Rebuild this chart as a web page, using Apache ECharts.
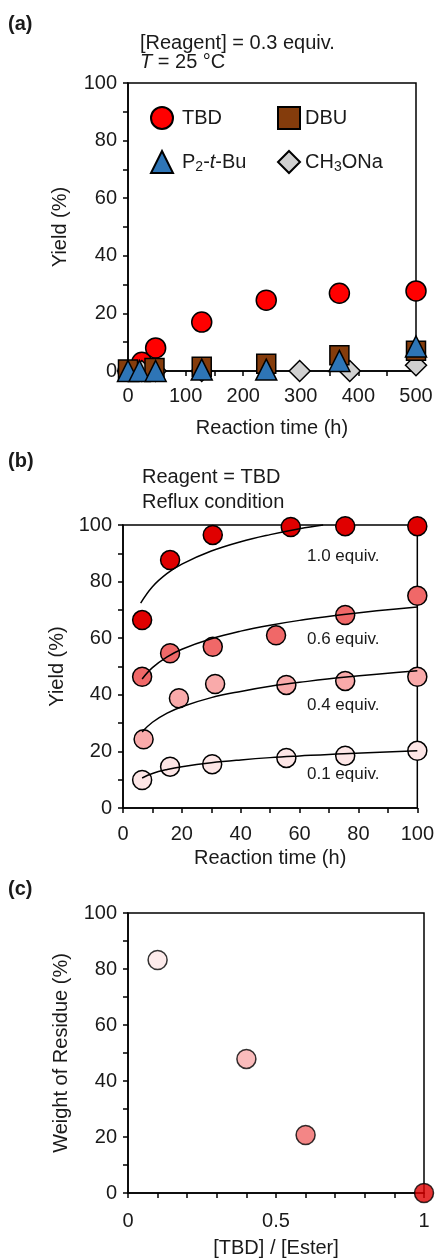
<!DOCTYPE html>
<html>
<head>
<meta charset="utf-8">
<script src="https://cdn.jsdelivr.net/npm/echarts@6/dist/echarts.min.js"></script>
<style>
  html, body { margin: 0; padding: 0; background: #fff; }
  #chart { width: 437px; height: 1260px; }
</style>
</head>
<body>
<div id="chart"></div>
<script>
// panel (a): yield vs time at 25 C, 0.3 equiv reagent
const tbdT = [0, 24, 48, 128, 240, 367, 500];
const tbdY = [0, 3, 8, 17, 24.6, 27, 27.8];
const dbuT = [0, 46, 128, 240, 367, 500];
const dbuY = [0.5, 1, 1.5, 2.5, 5.5, 7];
const p2T = [0, 20, 48, 128, 240, 367, 500];
const p2Y = [0, 0, 0, 0.5, 0.5, 3.5, 8.5];
const meoT = [0, 24, 48, 128, 298, 385, 500];
const meoY = [0, 0, 0, 0, 0, 0, 2];

// panel (b): TBD under reflux, different loadings
const eq10T = [6.5, 16, 30.5, 57, 75.5, 100];
const eq10Y = [66.4, 87.6, 96.5, 99.3, 99.6, 99.6];
const eq06T = [6.5, 16, 30.5, 52, 75.5, 100];
const eq06Y = [46.4, 54.7, 57, 61, 68.2, 75];
const eq04T = [7, 19, 31.3, 55.5, 75.5, 100];
const eq04Y = [24.3, 38.8, 43.8, 43.5, 44.9, 46.4];
const eq01T = [6.5, 16, 30.3, 55.5, 75.5, 100];
const eq01Y = [9.9, 14.6, 15.5, 17.7, 18.5, 20.2];

// trend curves
const fit10T = [6, 10, 15, 20, 30, 40, 50, 60, 68];
const fit10Y = [72.4, 78.2, 82.9, 86.2, 90.8, 94.1, 96.6, 98.7, 100];
const fitT = [6.5, 10, 15, 20, 30, 40, 50, 60, 75, 100];
const fit06Y = [45.6, 49.6, 53.4, 56.1, 59.8, 62.5, 64.6, 66.3, 68.4, 71.0];
const fit04Y = [26.9, 30.3, 33.5, 35.8, 39.0, 41.2, 43.0, 44.4, 46.2, 48.5];
const fit01Y = [10.6, 12.2, 13.6, 14.6, 16.0, 17.0, 17.8, 18.4, 19.2, 20.2];

// panel (c): residue vs TBD ratio
const ratioX = [0.1, 0.4, 0.6, 1.0];
const residueY = [83.2, 47.9, 20.7, 0];

const FONT = 'Liberation Sans, Arial, sans-serif';
const TXT = '#1a1a1a';
const c10 = '#e00000', c06 = '#f06868', c04 = '#f9aaaa', c01 = '#fde6e6';
const residueColors = [c01, c04, c06, c10];

const zip = (xs, ys) => xs.map((x, i) => [x, ys[i]]);

function xAxis(idx, max, interval, minorSplit, margin, name, gap) {
  return {
    gridIndex: idx, type: 'value', min: 0, max: max, interval: interval,
    name: name, nameLocation: 'middle', nameGap: gap,
    nameTextStyle: { fontFamily: FONT, fontSize: 20, color: TXT },
    axisLine: { show: true, lineStyle: { color: '#000', width: 1.5 } },
    axisTick: { show: true, inside: false, length: 5, lineStyle: { color: '#000', width: 1.5 } },
    minorTick: { show: true, splitNumber: minorSplit, length: 5, lineStyle: { color: '#000', width: 1.5 } },
    axisLabel: { fontFamily: FONT, fontSize: 20, color: TXT, margin: margin },
    splitLine: { show: false }
  };
}

function yAxis(idx, name, gap) {
  return {
    gridIndex: idx, type: 'value', min: 0, max: 100, interval: 20,
    name: name, nameLocation: 'middle', nameGap: gap, nameRotate: 90,
    nameTextStyle: { fontFamily: FONT, fontSize: 20, color: TXT },
    axisLine: { show: true, lineStyle: { color: '#000', width: 1.5 } },
    axisTick: { show: true, inside: false, length: 5, lineStyle: { color: '#000', width: 1.5 } },
    minorTick: { show: true, splitNumber: 2, length: 5, lineStyle: { color: '#000', width: 1.5 } },
    axisLabel: { fontFamily: FONT, fontSize: 20, color: TXT, margin: 11 },
    splitLine: { show: false }
  };
}

function dots(name, idx, data, symbol, color, size, z) {
  return {
    name: name, type: 'scatter', xAxisIndex: idx, yAxisIndex: idx,
    data: data, symbol: symbol, symbolSize: size, clip: false, z: z || 3,
    itemStyle: { color: color, borderColor: '#000', borderWidth: 1.5, opacity: 1 },
    emphasis: { disabled: true }
  };
}

function curve(xs, ys) {
  return {
    type: 'line', xAxisIndex: 1, yAxisIndex: 1, data: zip(xs, ys),
    smooth: 0.4, symbol: 'none', clip: false, z: 6,
    lineStyle: { color: '#000', width: 1.5 }, silent: true
  };
}

const legendNames = {
  'TBD': '{a|TBD}',
  'DBU': '{a|DBU}',
  'P2-t-Bu': '{a|P}{s|2}{a|-}{i|t}{a|-Bu}',
  'CH3ONa': '{a|CH}{s|3}{a|ONa}'
};
const legendRich = {
  a: { fontFamily: FONT, fontSize: 20, color: TXT, lineHeight: 25 },
  i: { fontFamily: FONT, fontSize: 20, color: TXT, lineHeight: 25, fontStyle: 'italic' },
  s: { fontFamily: FONT, fontSize: 14, color: TXT, lineHeight: 25, verticalAlign: 'bottom' }
};

function legend(left, names, pad) {
  return {
    left: left, top: 101, orient: 'vertical', itemWidth: 22, itemHeight: 22, itemGap: 20,
    data: names, selectedMode: false,
    formatter: n => legendNames[n],
    textStyle: { rich: legendRich, padding: [0, 0, 0, pad] }
  };
}

function label(x, y, text, size, bold) {
  return {
    type: 'text', left: x, top: y,
    style: { text: text, fontFamily: FONT, fontSize: size, fontWeight: bold ? 'bold' : 'normal', fill: TXT }
  };
}

const chart = echarts.init(document.getElementById('chart'), null, { renderer: 'canvas' });

chart.setOption({
  animation: false,
  backgroundColor: '#fff',
  grid: [
    { left: 128, top: 83, width: 288, height: 288, show: true, borderColor: '#000', borderWidth: 1.5, backgroundColor: 'transparent' },
    { left: 123, top: 525, width: 296, height: 283, show: true, borderColor: '#000', borderWidth: 1.5, backgroundColor: 'transparent' },
    { left: 128, top: 913, width: 296, height: 280, show: true, borderColor: '#000', borderWidth: 1.5, backgroundColor: 'transparent' }
  ],
  xAxis: [
    xAxis(0, 500, 100, 2, 15, 'Reaction time (h)', 47),
    xAxis(1, 100, 20, 2, 16, 'Reaction time (h)', 40),
    xAxis(2, 1, 0.5, 5, 18, '[TBD] / [Ester]', 45)
  ],
  yAxis: [
    yAxis(0, 'Yield (%)', 58),
    yAxis(1, 'Yield (%)', 52),
    yAxis(2, 'Weight of Residue (%)', 57)
  ],
  legend: [
    legend(145, ['TBD', 'P2-t-Bu'], 4),
    legend(272, ['DBU', 'CH3ONa'], 0)
  ],
  graphic: [
    label(8, 14, '(a)', 20, true),
    label(140, 33, '[Reagent] = 0.3 equiv.', 20),
    {
      type: 'text', left: 140, top: 52,
      style: {
        text: '{i|T} = 25 °C',
        fontFamily: FONT, fontSize: 20, fill: TXT,
        rich: { i: { fontFamily: FONT, fontSize: 20, fontStyle: 'italic', fill: TXT } }
      }
    },
    label(8, 451, '(b)', 20, true),
    label(142, 467, 'Reagent = TBD', 20),
    label(142, 492, 'Reflux condition', 20),
    label(307, 548, '1.0 equiv.', 17),
    label(307, 631, '0.6 equiv.', 17),
    label(307, 697, '0.4 equiv.', 17),
    label(307, 766, '0.1 equiv.', 17),
    label(8, 879, '(c)', 20, true)
  ],
  series: [
    dots('TBD', 0, zip(tbdT, tbdY), 'circle', '#ff0000', 20, 3),
    dots('DBU', 0, zip(dbuT, dbuY), 'rect', '#843c0c', 19, 4),
    dots('CH3ONa', 0, zip(meoT, meoY), 'diamond', '#d0d0d0', 21, 3),
    dots('P2-t-Bu', 0, zip(p2T, p2Y), 'triangle', '#2e75b6', 21, 5),

    dots('1.0', 1, zip(eq10T, eq10Y), 'circle', c10, 19),
    dots('0.6', 1, zip(eq06T, eq06Y), 'circle', c06, 19),
    dots('0.4', 1, zip(eq04T, eq04Y), 'circle', c04, 19),
    dots('0.1', 1, zip(eq01T, eq01Y), 'circle', c01, 19),
    curve(fit10T, fit10Y),
    curve(fitT, fit06Y),
    curve(fitT, fit04Y),
    curve(fitT, fit01Y),

    {
      type: 'scatter', xAxisIndex: 2, yAxisIndex: 2, clip: false,
      symbolSize: 19, z: 3,
      data: zip(ratioX, residueY).map((p, i) => ({
        value: p,
        itemStyle: { color: residueColors[i], borderColor: '#000', borderWidth: 1.5 }
      })),
      emphasis: { disabled: true }
    }
  ]
});
</script>
</body>
</html>
